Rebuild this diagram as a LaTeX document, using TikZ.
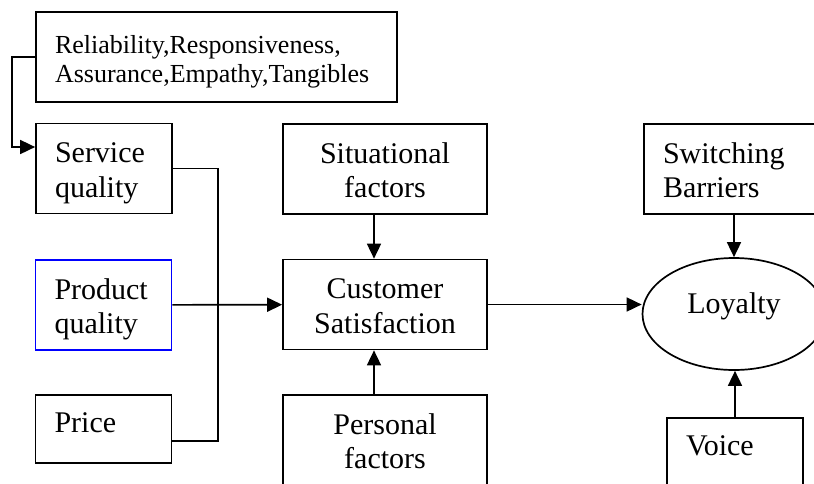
\documentclass[tikz,border=0pt]{standalone}
\usepackage{fontspec}
\setmainfont{Liberation Serif}
\usetikzlibrary{arrows.meta,shapes.geometric}

\begin{document}
\begin{tikzpicture}[x=1pt, y=-1pt, >={Triangle[length=15pt,width=14pt]},
  line width=1.7pt, font=\fontsize{30}{34.5}\selectfont,
  box/.style={draw, inner xsep=19pt, inner ysep=0pt, minimum height=90pt},
  leftbox/.style={box, text width=98pt, minimum width=136pt, align=left},
  midbox/.style={box, text width=166pt, minimum width=204pt, align=center},
  twolines/.style={text height=25pt, text depth=37pt}]
  \useasboundingbox (0,0) rectangle (814,483);
  \clip (0,0) rectangle (814,483);
  % service dimensions
  \node[box, text width=323pt, minimum width=361pt, align=left,
        font=\fontsize{26}{29.5}\selectfont, text height=21pt, text depth=29pt]
        (attr) at (216.5,57) {Reliability,Responsiveness,\\Assurance,Empathy,Tangibles};
  % left column
  \node[leftbox, twolines] (serv) at (104,168.5) {Service\\quality};
  \node[leftbox, twolines, draw=blue] (prod) at (103.5,305) {Product\\quality};
  \node[leftbox, minimum height=68pt, text height=21pt, text depth=15pt] (price) at (103.5,429) {Price};
  % middle column
  \node[midbox, twolines] (sit) at (385,169) {Situational\\factors};
  \node[midbox, twolines] (cust) at (385,304.5) {Customer\\Satisfaction};
  \node[midbox, twolines] (pers) at (385,440) {Personal\\factors};
  % right column
  \node[box, text width=142pt, minimum width=180pt, align=left, twolines] (sw) at (734,169) {Switching\\Barriers};
  \node[draw, ellipse, minimum width=183pt, minimum height=112pt, inner sep=0pt,
        text height=20pt, text depth=22pt] (loy) at (734,314) {Loyalty};
  \node[leftbox, text height=21pt, text depth=37pt] (voice) at (735,463) {Voice};
  % connectors
  \draw[->] (attr.west) -- ++(-23,0) |- ([yshift=21.5pt]serv.west);
  \draw (serv.east) -- ++(45,0) |- ([yshift=-12pt]price.east);
  \draw[->] (prod) -- (cust);
  \draw[->] ([xshift=-11pt]sit.south) -- ([xshift=-11pt]cust.north);
  \draw[->] ([xshift=-11pt]pers.north) -- ([xshift=-11pt]cust.south);
  \draw[->] (cust.east) -- (cust.east -| loy.west);
  \draw[->] (sw.south) -- (loy.north);
  \draw[->] (voice.north) -- (voice.north |- loy.south);
\end{tikzpicture}
\end{document}
